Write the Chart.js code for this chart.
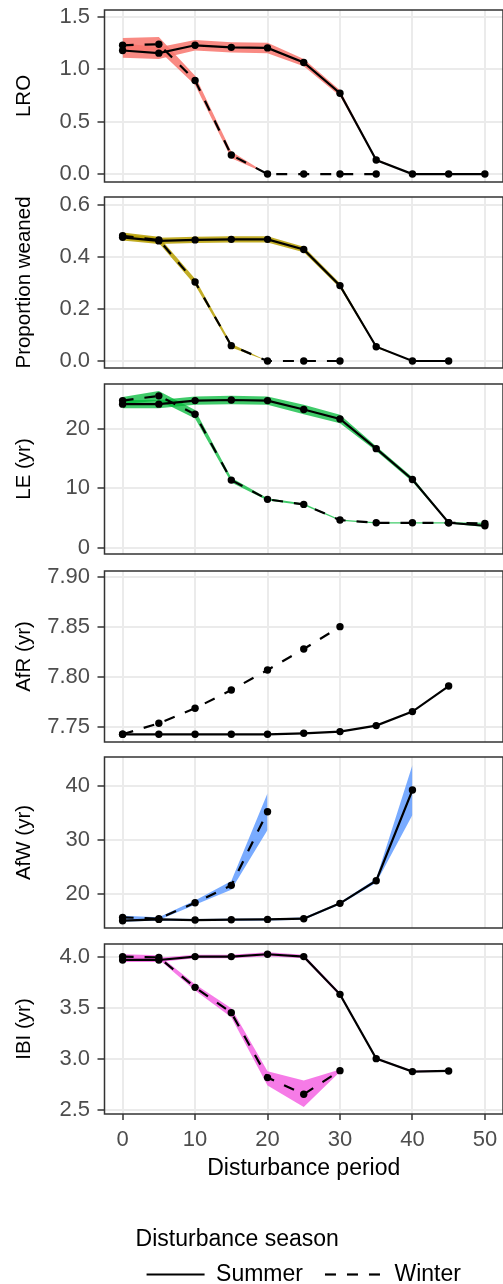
<!DOCTYPE html>
<html>
<head>
<meta charset="utf-8">
<script src="https://cdn.jsdelivr.net/npm/chart.js@4.4.1/dist/chart.umd.min.js"></script>
<style>
html, body { margin: 0; padding: 0; background: #fff; width: 503px; height: 1284px; overflow: hidden; }
.panel { position: absolute; left: 0; width: 507px; }
#p1 { top: -14px; height: 220px; }
#p2 { top: 173px; height: 219px; }
#p3 { top: 360px; height: 218px; }
#p4 { top: 547px; height: 219px; }
#p5 { top: 733px; height: 219px; }
#p6 { top: 920px; height: 376px; }
</style>
</head>
<body>
<div class="panel" id="p1"><canvas id="c1"></canvas></div>
<div class="panel" id="p2"><canvas id="c2"></canvas></div>
<div class="panel" id="p3"><canvas id="c3"></canvas></div>
<div class="panel" id="p4"><canvas id="c4"></canvas></div>
<div class="panel" id="p5"><canvas id="c5"></canvas></div>
<div class="panel" id="p6"><canvas id="c6"></canvas></div>
<script>
// disturbance periods (x) and season names
const periods = [0, 5, 10, 15, 20, 25, 30, 35, 40, 45, 50];
const xTicks = [0, 10, 20, 30, 40, 50];
const seasons = ['Summer', 'Winter'];
const xTitle = 'Disturbance period';
const legendTitle = 'Disturbance season';

// LRO
const lroSummer   = [1.18, 1.155, 1.23, 1.21, 1.205, 1.066, 0.772, 0.134, 0, 0, 0];
const lroSummerLo = [1.11, 1.10, 1.18, 1.16, 1.155, 1.03, 0.745, 0.125, 0, 0, 0];
const lroSummerHi = [1.25, 1.21, 1.28, 1.26, 1.255, 1.10, 0.80, 0.143, 0, 0, 0];
const lroWinter   = [1.23, 1.24, 0.894, 0.182, 0, 0, 0, 0];
const lroWinterLo = [1.17, 1.18, 0.85, 0.15, 0, 0, 0, 0];
const lroWinterHi = [1.30, 1.31, 0.94, 0.215, 0, 0, 0, 0];
const lroTicks = [0, 0.5, 1, 1.5];
const lroTickLabels = ['0.0', '0.5', '1.0', '1.5'];

// Proportion weaned
const pwSummer   = [0.476, 0.462, 0.466, 0.468, 0.468, 0.429, 0.290, 0.055, 0, 0];
const pwSummerLo = [0.464, 0.450, 0.454, 0.456, 0.456, 0.418, 0.281, 0.051, 0, 0];
const pwSummerHi = [0.488, 0.474, 0.478, 0.480, 0.480, 0.440, 0.299, 0.059, 0, 0];
const pwWinter   = [0.482, 0.466, 0.304, 0.059, 0, 0, 0];
const pwWinterLo = [0.470, 0.454, 0.292, 0.052, 0, 0, 0];
const pwWinterHi = [0.494, 0.478, 0.316, 0.066, 0, 0, 0];
const pwTicks = [0, 0.2, 0.4, 0.6];
const pwTickLabels = ['0.0', '0.2', '0.4', '0.6'];

// LE (yr)
const leSummer   = [24.2, 24.2, 24.8, 24.9, 24.8, 23.3, 21.7, 16.7, 11.5, 4.2, 3.7];
const leSummerLo = [23.5, 23.5, 24.1, 24.2, 24.1, 22.5, 21.0, 16.3, 11.1, 4.1, 3.5];
const leSummerHi = [24.9, 24.9, 25.5, 25.6, 25.5, 24.1, 22.4, 17.1, 11.9, 4.3, 3.9];
const leWinter   = [24.8, 25.6, 22.5, 11.4, 8.15, 7.3, 4.66, 4.2, 4.2, 4.2, 4.1];
const leWinterLo = [24.2, 24.8, 21.8, 11.0, 7.95, 7.15, 4.56, 4.1, 4.1, 4.1, 4.0];
const leWinterHi = [25.4, 26.4, 23.2, 11.8, 8.35, 7.45, 4.76, 4.3, 4.3, 4.3, 4.2];
const leTicks = [0, 10, 20];
const leTickLabels = ['0', '10', '20'];

// AfR (yr) - interval too narrow to see
const afrSummer = [7.743, 7.743, 7.743, 7.743, 7.743, 7.744, 7.7457, 7.7517, 7.7657, 7.7913];
const afrWinter = [7.743, 7.754, 7.769, 7.7873, 7.8073, 7.8283, 7.8507];
const afrTicks = [7.75, 7.80, 7.85, 7.90];
const afrTickLabels = ['7.75', '7.80', '7.85', '7.90'];

// AfW (yr)
const afwSummer   = [15.08, 15.32, 15.2, 15.26, 15.32, 15.45, 18.28, 22.46, 39.2];
const afwSummerLo = [14.9, 15.1, 15.0, 15.05, 15.1, 15.25, 18.05, 22.1, 34.6];
const afwSummerHi = [15.3, 15.5, 15.4, 15.45, 15.5, 15.65, 18.5, 22.8, 43.8];
const afwWinter   = [15.7, 15.45, 18.4, 21.6, 35.2];
const afwWinterLo = [15.4, 15.2, 18.0, 20.8, 31.8];
const afwWinterHi = [16.0, 15.7, 18.8, 22.4, 38.6];
const afwTicks = [20, 30, 40];
const afwTickLabels = ['20', '30', '40'];

// IBI (yr)
const ibiSummer   = [3.974, 3.974, 4.007, 4.007, 4.03, 4.007, 3.636, 3.004, 2.877, 2.883];
const ibiSummerLo = [3.955, 3.955, 3.99, 3.99, 4.01, 3.99, 3.62, 2.995, 2.87, 2.876];
const ibiSummerHi = [3.995, 3.995, 4.025, 4.025, 4.05, 4.025, 3.652, 3.013, 2.884, 2.89];
const ibiWinter   = [4.007, 4.0, 3.705, 3.456, 2.818, 2.654, 2.886];
const ibiWinterLo = [3.985, 3.98, 3.675, 3.41, 2.74, 2.53, 2.875];
const ibiWinterHi = [4.03, 4.02, 3.735, 3.50, 2.88, 2.79, 2.897];
const ibiTicks = [2.5, 3.0, 3.5, 4.0];
const ibiTickLabels = ['2.5', '3.0', '3.5', '4.0'];

Chart.defaults.font.family = "'Liberation Sans', Arial, sans-serif";

// panel border like ggplot theme_bw
const frame = {
  id: 'frame',
  afterDatasetsDraw(chart){
    const {ctx, chartArea: a} = chart;
    ctx.save();
    ctx.strokeStyle = '#333333';
    ctx.lineWidth = 1.5;
    ctx.strokeRect(a.left, a.top, a.right - a.left, a.bottom - a.top);
    ctx.restore();
  }
};

function pts(arr){
  return periods.map((p, i) => ({x: p, y: arr[i] === undefined ? null : arr[i]}));
}

function band(lo, hi, color){
  if(!lo || !hi) return [];
  return [
    {data: pts(lo), borderColor: 'transparent', borderWidth: 0, pointRadius: 0, fill: false, order: 2},
    {data: pts(hi), borderColor: 'transparent', borderWidth: 0, pointRadius: 0, fill: '-1', backgroundColor: color, order: 2}
  ];
}

function makePanel(canvasId, p){
  const bottom = !!p.bottom;
  const datasets = [
    ...band(p.sLo, p.sHi, p.fill),
    ...band(p.wLo, p.wHi, p.fill),
    {label: seasons[0], data: pts(p.summer), borderColor: '#000', borderWidth: 2.2,
     pointRadius: 3.7, pointBackgroundColor: '#000', pointBorderWidth: 0, fill: false, order: 0},
    {label: seasons[1], data: pts(p.winter), borderColor: '#000', borderWidth: 2.2, borderDash: [11, 11],
     pointRadius: 3.7, pointBackgroundColor: '#000', pointBorderWidth: 0, fill: false, order: 0}
  ];

  return new Chart(document.getElementById(canvasId), {
    type: 'line',
    data: {datasets},
    plugins: [frame],
    options: {
      responsive: true,
      maintainAspectRatio: false,
      animation: false,
      events: [],
      layout: {padding: {top: 24, bottom: bottom ? 0 : 24, left: 0, right: 0}},
      scales: {
        x: {
          type: 'linear', min: -2.5, max: 52.5, bounds: 'data',
          afterBuildTicks: s => { s.ticks = xTicks.map(v => ({value: v})); },
          afterFit: s => { s.height = bottom ? 103 : 0; },
          border: {display: false},
          grid: {color: '#EBEBEB', lineWidth: 2, drawTicks: bottom, tickLength: 6, tickColor: '#333333', tickWidth: 1.5},
          ticks: {display: bottom, color: '#4D4D4D', font: {size: 22}, padding: 6.3, maxRotation: 0, autoSkip: false,
                  callback: v => String(v)},
          title: {display: bottom, text: xTitle, color: '#000', font: {size: 23}, padding: {top: 0, bottom: 34.2}}
        },
        y: {
          type: 'linear', min: p.min, max: p.max, bounds: 'data',
          afterBuildTicks: s => { s.ticks = p.ticks.map(v => ({value: v})); },
          afterFit: s => { s.width = 104.5; },
          border: {display: false},
          grid: {color: '#EBEBEB', lineWidth: 2, drawTicks: true, tickLength: 7, tickColor: '#333333', tickWidth: 1.5},
          ticks: {color: '#4D4D4D', font: {size: 22}, padding: 7.5, autoSkip: false,
                  callback: (v, i) => p.tickLabels[i]},
          title: {display: true, text: p.title, color: '#000', font: {size: 20.5}, padding: {top: 11.7, bottom: 0}}
        }
      },
      plugins: {
        tooltip: {enabled: false},
        legend: {
          display: bottom,
          position: 'bottom',
          fullSize: false,
          align: 'center',
          title: {display: true, text: legendTitle, position: 'start', color: '#000',
                  font: {size: 23}, padding: {top: 11, bottom: -14.6}},
          labels: {
            color: '#000', font: {size: 23}, padding: 22,
            usePointStyle: true, pointStyleWidth: 58,
            generateLabels: () => seasons.map((name, i) => ({
              text: name, fillStyle: '#000', strokeStyle: '#000', lineWidth: 2.2,
              lineDash: i ? [11, 11] : [], pointStyle: 'line', hidden: false, datasetIndex: 4 + i
            }))
          }
        }
      }
    }
  });
}

makePanel('c1', {title: 'LRO', min: -0.076, max: 1.567, ticks: lroTicks, tickLabels: lroTickLabels,
  fill: 'rgba(248,118,109,0.85)', summer: lroSummer, sLo: lroSummerLo, sHi: lroSummerHi,
  winter: lroWinter, wLo: lroWinterLo, wHi: lroWinterHi});
makePanel('c2', {title: 'Proportion weaned', min: -0.027, max: 0.631, ticks: pwTicks, tickLabels: pwTickLabels,
  fill: 'rgba(183,159,0,0.85)', summer: pwSummer, sLo: pwSummerLo, sHi: pwSummerHi,
  winter: pwWinter, wLo: pwWinterLo, wHi: pwWinterHi});
makePanel('c3', {title: 'LE (yr)', min: -1.06, max: 27.6, ticks: leTicks, tickLabels: leTickLabels,
  fill: 'rgba(0,186,56,0.75)', summer: leSummer, sLo: leSummerLo, sHi: leSummerHi,
  winter: leWinter, wLo: leWinterLo, wHi: leWinterHi});
makePanel('c4', {title: 'AfR (yr)', min: 7.7353, max: 7.9064, ticks: afrTicks, tickLabels: afrTickLabels,
  fill: 'rgba(0,191,196,0.85)', summer: afrSummer, winter: afrWinter});
makePanel('c5', {title: 'AfW (yr)', min: 13.73, max: 45.3, ticks: afwTicks, tickLabels: afwTickLabels,
  fill: 'rgba(97,156,255,0.85)', summer: afwSummer, sLo: afwSummerLo, sHi: afwSummerHi,
  winter: afwWinter, wLo: afwWinterLo, wHi: afwWinterHi});
makePanel('c6', {title: 'IBI (yr)', min: 2.46, max: 4.131, ticks: ibiTicks, tickLabels: ibiTickLabels,
  fill: 'rgba(245,100,227,0.85)', summer: ibiSummer, sLo: ibiSummerLo, sHi: ibiSummerHi,
  winter: ibiWinter, wLo: ibiWinterLo, wHi: ibiWinterHi, bottom: true});
</script>
</body>
</html>
